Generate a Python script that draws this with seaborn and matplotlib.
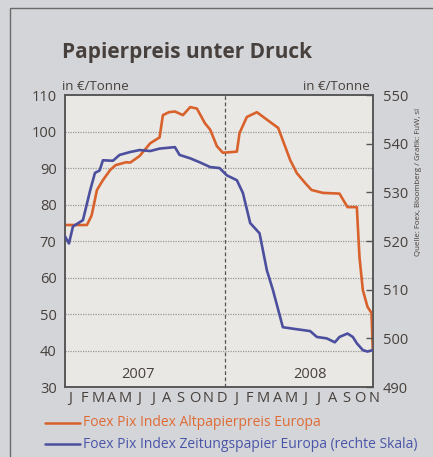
import matplotlib
matplotlib.use("Agg")
import matplotlib.pyplot as plt
import seaborn as sns
import pandas as pd

# month positions (0 = start of Jan 2007) and values
alt_months = [0.0, 1.65, 2.0, 2.4, 2.85, 3.4, 3.8, 4.6, 4.9, 5.6, 6.4, 7.1, 7.35,
              7.8, 8.25, 8.85, 9.4, 9.9, 10.5, 10.9, 11.4, 11.85, 12.9, 13.1,
              13.65, 14.4, 15.4, 16.0, 16.9, 17.4, 18.0, 18.5, 19.35, 20.6,
              21.2, 21.9, 22.1, 22.35, 22.7, 23.0, 23.1]
alt_values = [74.4, 74.4, 77.0, 84.0, 86.7, 89.5, 90.8, 91.6, 91.5, 93.3, 96.8, 98.4, 104.5,
              105.3, 105.5, 104.5, 106.7, 106.3, 102.3, 100.5, 96.0, 94.2, 94.5, 99.6,
              104.0, 105.3, 102.6, 101.0, 92.2, 88.6, 86.0, 84.0, 83.2, 83.0,
              79.3, 79.3, 65.6, 56.6, 52.0, 50.3, 40.0]

zeit_months = [0.0, 0.3, 0.6, 1.35, 1.9, 2.25, 2.6, 2.85, 3.6, 4.1, 4.9, 5.6, 6.4,
               7.1, 8.25, 8.6, 9.4, 10.1, 10.9, 11.6, 12.15, 12.9, 13.35, 13.9,
               14.6, 15.15, 15.6, 16.35, 17.1, 18.4, 18.9, 19.65, 20.25, 20.6,
               21.2, 21.6, 21.9, 22.35, 22.7, 23.1]
zeit_values = [521.0, 519.5, 523.0, 524.3, 530.5, 534.0, 534.5, 536.6, 536.5, 537.7, 538.3,
               538.7, 538.5, 539.0, 539.3, 537.7, 537.0, 536.2, 535.2, 535.0, 533.5,
               532.5, 529.9, 523.7, 521.6, 514.0, 510.0, 502.3, 502.0, 501.5, 500.3,
               500.0, 499.2, 500.3, 501.0, 500.3, 499.0, 497.6, 497.3, 497.6]

month_letters = list("JFMAMJJASONDJFMAMJJASON")
left_ticks = [30, 40, 50, 60, 70, 80, 90, 100, 110]
right_ticks = [490, 500, 510, 520, 530, 540, 550]

alt = pd.DataFrame({"month": alt_months, "value": alt_values})
zeit = pd.DataFrame({"month": zeit_months, "value": zeit_values})

orange = "#d8612c"
blue = "#4b4f9e"
text_col = "#47403c"

sns.set_style("white")
plt.rcParams["font.family"] = ["Open Sans", "DejaVu Sans"]

fig = plt.figure(figsize=(4.33, 4.57), dpi=100, facecolor="#d3d5d8")
ax = fig.add_axes([0.150, 0.153, 0.711, 0.639])
ax.set_facecolor("#e9e8e4")

# outer frame of the graphic
fig.patches.append(plt.Rectangle((10 / 433, -0.01), 1.0, 1 - 8 / 457 + 0.01,
                                 transform=fig.transFigure, fill=False,
                                 edgecolor="#6a6a6a", linewidth=1.0))

for y in left_ticks[1:-1]:
    ax.axhline(y, color="#9a9a98", linestyle=(0, (1, 1)), linewidth=0.9, zorder=1)
ax.axvline(12, color="#555555", linestyle=(0, (3, 2)), linewidth=0.9, zorder=1)

sns.lineplot(data=alt, x="month", y="value", ax=ax, color=orange, linewidth=1.9,
             zorder=3)
ax2 = ax.twinx()
sns.lineplot(data=zeit, x="month", y="value", ax=ax2, color=blue, linewidth=1.9,
             zorder=3)

ax.set_xlim(0, 23.1)
ax.set_ylim(30, 110)
ax2.set_ylim(490, 550)

ax.set_yticks(left_ticks)
ax.set_yticklabels([str(t) for t in left_ticks], fontsize=10.5, color=text_col)
ax.tick_params(axis="y", length=0, pad=6)
ax2.set_yticks(right_ticks)
ax2.set_yticklabels([str(t) for t in right_ticks], fontsize=10.5, color=text_col)
ax2.tick_params(axis="y", direction="in", length=5, width=1, color="#555555", pad=7)

# month letters run slightly wider than the month grid in the original
ax.set_xticks([])
for i, letter in enumerate(month_letters):
    ax.text(0.4 + i * 1.035, -0.012, letter, transform=ax.get_xaxis_transform(),
            fontsize=10.5, color=text_col, ha="center", va="top", clip_on=False)

ax.set_xlabel("")
ax.set_ylabel("")
ax2.set_ylabel("")
for a in (ax, ax2):
    for s in a.spines.values():
        s.set_color("#555555")
        s.set_linewidth(1.1)

ax.text(5.5, 31.3, "2007", fontsize=10.5, color=text_col, ha="center", va="bottom")
ax.text(18.4, 31.3, "2008", fontsize=10.5, color=text_col, ha="center", va="bottom")

fig.text(62 / 433, 1 - 58 / 457, "Papierpreis unter Druck", fontsize=15,
         fontweight="bold", color=text_col, ha="left", va="baseline")
fig.text(62 / 433, 1 - 90 / 457, "in €/Tonne", fontsize=9.5, color=text_col,
         ha="left", va="baseline")
fig.text(370 / 433, 1 - 90 / 457, "in €/Tonne", fontsize=9.5, color=text_col,
         ha="right", va="baseline")
fig.text(419 / 433, 1 - 182 / 457, "Quelle: Foex, Bloomberg / Grafik: FuW, sl",
         fontsize=5.7, color=text_col, rotation=90, ha="center", va="center")

# legend
fig.lines.append(plt.Line2D([45 / 433, 80 / 433], [1 - 423 / 457] * 2,
                            transform=fig.transFigure, color=orange, linewidth=1.8))
fig.text(83 / 433, 1 - 423 / 457, "Foex Pix Index Altpapierpreis Europa",
         fontsize=10, color="#e06a34", ha="left", va="center")
fig.lines.append(plt.Line2D([45 / 433, 80 / 433], [1 - 444 / 457] * 2,
                            transform=fig.transFigure, color=blue, linewidth=1.8))
fig.text(83 / 433, 1 - 444 / 457, "Foex Pix Index Zeitungspapier Europa (rechte Skala)",
         fontsize=10, color="#4a55a8", ha="left", va="center")

fig.savefig("out.png", dpi=100, facecolor=fig.get_facecolor())
